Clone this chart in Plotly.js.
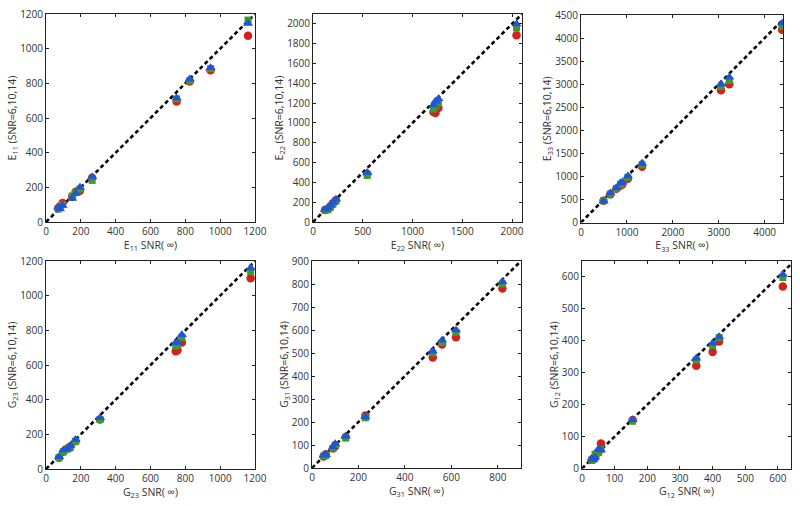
<!DOCTYPE html>
<html>
<head>
<meta charset="utf-8">
<script src="https://cdn.plot.ly/plotly-3.0.1.min.js"></script>
<style>html,body{margin:0;padding:0;background:#fff;}#chart{width:800px;height:506px;}</style>
</head>
<body>
<div id="chart"></div>
<script>
// ---- data: x = value at SNR(inf); r/g/b = SNR 6 / 10 / 14 ----
const e11_x = [70, 80, 95, 150, 170, 195, 265, 750, 825, 945, 1160];
const e11_r = [80, 90, 110, 145, 175, 180, 255, 695, 810, 875, 1075];
const e11_g = [75, 85, 100, 150, 170, 190, 240, 710, 815, 885, 1165];
const e11_b = [85, 75, 95, 135, 165, 200, 260, 715, 825, 890, 1145];

const e22_x = [120, 150, 175, 200, 230, 545, 1210, 1230, 1260, 2045];
const e22_r = [120, 130, 160, 190, 220, 485, 1110, 1100, 1150, 1885];
const e22_g = [120, 125, 150, 180, 210, 470, 1140, 1170, 1200, 1960];
const e22_b = [125, 140, 170, 200, 230, 500, 1180, 1220, 1245, 2000];

const e33_x = [490, 640, 770, 860, 900, 1020, 1330, 3050, 3230, 4380];
const e33_r = [470, 610, 730, 800, 830, 950, 1210, 2870, 3000, 4180];
const e33_g = [470, 620, 740, 830, 860, 980, 1250, 2950, 3080, 4250];
const e33_b = [460, 640, 750, 850, 880, 1010, 1280, 3000, 3150, 4320];

const g23_x = [75, 100, 125, 140, 170, 310, 745, 755, 780, 1175];
const g23_r = [65, 100, 120, 130, 160, 285, 680, 685, 730, 1100];
const g23_g = [65, 100, 115, 125, 160, 285, 710, 720, 760, 1140];
const g23_b = [70, 110, 115, 135, 170, 295, 730, 730, 775, 1160];

const g31_x = [50, 60, 90, 100, 145, 230, 520, 560, 620, 820];
const g31_r = [50, 60, 85, 95, 135, 228, 480, 537, 568, 780];
const g31_g = [52, 55, 85, 100, 130, 218, 500, 545, 590, 800];
const g31_b = [55, 58, 90, 105, 138, 222, 508, 555, 600, 810];

const g12_x = [30, 35, 40, 50, 58, 155, 350, 400, 420, 615];
const g12_r = [28, 30, 35, 50, 78, 152, 322, 365, 398, 570];
const g12_g = [25, 30, 45, 50, 60, 148, 340, 385, 410, 598];
const g12_b = [30, 28, 35, 60, 58, 153, 345, 392, 412, 608];

const panels = [
  {name: "E", sub: "11", x: e11_x, r: e11_r, g: e11_g, b: e11_b, xr: [0, 1200], yr: [0, 1200], xt: [0,200,400,600,800,1000,1200], yt: [0,200,400,600,800,1000,1200]},
  {name: "E", sub: "22", x: e22_x, r: e22_r, g: e22_g, b: e22_b, xr: [0, 2100], yr: [0, 2100], xt: [0,500,1000,1500,2000], yt: [0,200,400,600,800,1000,1200,1400,1600,1800,2000]},
  {name: "E", sub: "33", x: e33_x, r: e33_r, g: e33_g, b: e33_b, xr: [0, 4400], yr: [0, 4500], xt: [0,1000,2000,3000,4000], yt: [0,500,1000,1500,2000,2500,3000,3500,4000,4500]},
  {name: "G", sub: "23", x: g23_x, r: g23_r, g: g23_g, b: g23_b, xr: [0, 1200], yr: [0, 1200], xt: [0,200,400,600,800,1000,1200], yt: [0,200,400,600,800,1000,1200]},
  {name: "G", sub: "31", x: g31_x, r: g31_r, g: g31_g, b: g31_b, xr: [0, 900], yr: [0, 900], xt: [0,200,400,600,800], yt: [0,100,200,300,400,500,600,700,800,900]},
  {name: "G", sub: "12", x: g12_x, r: g12_r, g: g12_g, b: g12_b, xr: [0, 640], yr: [0, 650], xt: [0,100,200,300,400,500,600], yt: [0,100,200,300,400,500,600]}
];

// plot-area pixel boxes [left, right, top, bottom]
const boxes = [
  [46, 255, 14, 222],
  [313, 522, 14, 222],
  [581, 783, 15, 222.5],
  [46, 255, 261, 469],
  [312, 521, 261, 468],
  [582, 791, 261, 468.5]
];
const W = 800, H = 506;

const traces = [];
const layout = {
  width: W, height: H,
  margin: {l: 0, r: 0, t: 0, b: 0},
  paper_bgcolor: "#fff", plot_bgcolor: "#fff",
  showlegend: false,
  font: {family: "Open Sans, Liberation Sans, sans-serif", size: 10, color: "#333"}
};

panels.forEach((p, i) => {
  const k = i + 1;
  const xa = k === 1 ? "x" : "x" + k;
  const ya = k === 1 ? "y" : "y" + k;
  const lim = Math.max(p.xr[1], p.yr[1]);
  traces.push({x: [0, lim], y: [0, lim], xaxis: xa, yaxis: ya, mode: "lines", type: "scatter",
    line: {color: "#000", width: 2.6, dash: "4px,3px"}, hoverinfo: "skip"});
  traces.push({x: p.x, y: p.r, xaxis: xa, yaxis: ya, mode: "markers", type: "scatter",
    marker: {symbol: "circle", size: 8.5, color: "#d5201c"}});
  traces.push({x: p.x, y: p.g, xaxis: xa, yaxis: ya, mode: "markers", type: "scatter",
    marker: {symbol: "square", size: 7, color: "#3f9a2e"}});
  traces.push({x: p.x, y: p.b, xaxis: xa, yaxis: ya, mode: "markers", type: "scatter",
    marker: {symbol: "triangle-up", size: 9, color: "#1f56d6"}});

  const b = boxes[i];
  const common = {
    showgrid: false, zeroline: false, showline: true, linecolor: "#222", linewidth: 1,
    mirror: "ticks", ticks: "inside", ticklen: 3, tickcolor: "#222", tickwidth: 1,
    tickfont: {size: 10, color: "#333"}, automargin: false, fixedrange: true
  };
  layout["xaxis" + (k === 1 ? "" : k)] = Object.assign({}, common, {
    domain: [b[0] / W, b[1] / W], range: p.xr, tickvals: p.xt, anchor: ya,
    title: {text: p.name + "<sub>" + p.sub + "</sub> SNR( \u221e)", font: {size: 10.5, color: "#333"}, standoff: 3}
  });
  layout["yaxis" + (k === 1 ? "" : k)] = Object.assign({}, common, {
    domain: [(H - b[3]) / H, (H - b[2]) / H], range: p.yr, tickvals: p.yt, anchor: xa,
    title: {text: p.name + "<sub>" + p.sub + "</sub> (SNR=6,10,14)", font: {size: 10.5, color: "#333"}, standoff: 1}
  });
});

Plotly.newPlot("chart", traces, layout, {staticPlot: true});
</script>
</body>
</html>
